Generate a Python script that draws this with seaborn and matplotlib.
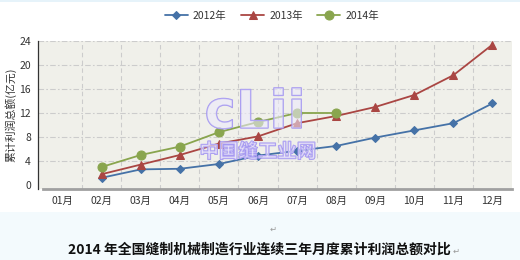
import matplotlib
matplotlib.use("Agg")
import matplotlib.pyplot as plt
import matplotlib.patheffects as pe
from matplotlib.patches import Rectangle
import seaborn as sns
import pandas as pd
import numpy as np

months = ["01月", "02月", "03月", "04月", "05月", "06月", "07月", "08月", "09月", "10月", "11月", "12月"]
series_names = ["2012年", "2013年", "2014年"]
v2012 = [None, 1.2, 2.6, 2.7, 3.5, 4.9, 5.7, 6.5, 7.9, 9.1, 10.3, 13.6]
v2013 = [None, 1.8, 3.4, 5.0, 6.9, 8.1, 10.3, 11.5, 13.0, 15.0, 18.3, 23.4]
v2014 = [None, 3.0, 5.0, 6.4, 8.8, 10.5, 12.0, 12.0, None, None, None, None]
ytick_vals = [0, 4, 8, 12, 16, 20, 24]
ylabel = "累计利润总额(亿元)"
title = "2014 年全国缝制机械制造行业连续三年月度累计利润总额对比"

rows = []
for name, vals in zip(series_names, [v2012, v2013, v2014]):
    for i, v in enumerate(vals):
        if v is not None:
            rows.append({"idx": i, "month": months[i], "value": v, "series": name})
df = pd.DataFrame(rows)

sns.set_theme(style="white")
plt.rcParams["font.family"] = ["Noto Sans CJK SC", "DejaVu Sans"]

fig = plt.figure(figsize=(5.2, 2.6), dpi=100)
fig.patch.set_facecolor("white")
# light blue lower band
fig.patches.append(Rectangle((0, 0), 1, 48 / 260, transform=fig.transFigure,
                             facecolor="#f3fafd", edgecolor="none", zorder=0))
fig.patches.append(Rectangle((0, 1 - 2 / 260), 1, 2 / 260, transform=fig.transFigure,
                             facecolor="#e6f3fa", edgecolor="none", zorder=0))

ax = fig.add_axes([38 / 520, 1 - 189 / 260, (512 - 38) / 520, (189 - 41) / 260])
ax.set_facecolor("#f0f0ea")

palette = {"2012年": "#4572a7", "2013年": "#aa4643", "2014年": "#89a54e"}
markers = {"2012年": "D", "2013年": "^", "2014年": "o"}
sizes_ms = {"2012年": 4.2, "2013年": 6.2, "2014年": 6.5}

for name in series_names:
    sub = df[df["series"] == name]
    sns.lineplot(data=sub, x="idx", y="value", ax=ax, color=palette[name],
                 marker=markers[name], markersize=sizes_ms[name],
                 markeredgecolor=palette[name], linewidth=1.3, label=name,
                 legend=False, zorder=3)

ax.set_xlim(-0.63, 11.5)
ax.set_ylim(-0.67, 24)
ax.set_yticks(ytick_vals)
ax.set_yticklabels([str(v) for v in ytick_vals], fontsize=7.5, color="#333333")
ax.set_xticks(np.arange(12))
ax.set_xticklabels(months, fontsize=7.5, color="#333333")
ax.set_xticks(np.arange(-0.5, 12, 1), minor=True)
ax.tick_params(axis="x", which="major", length=0, pad=5)
ax.tick_params(axis="x", which="minor", length=4, color="#c0c0c0", width=1, direction="out")
ax.tick_params(axis="y", length=3, color="#333333", width=0.8, pad=2, direction="out")

grid_ls = (0, (5, 2, 1.5, 2))
for yv in ytick_vals[1:]:
    ax.axhline(yv, color="#cccccc", lw=0.8, ls=grid_ls, zorder=1)
for xv in np.arange(0.5, 11.5, 1):
    ax.axvline(xv, color="#cccccc", lw=0.8, ls=(0, (4, 3)), zorder=1)

for s in ["top", "right"]:
    ax.spines[s].set_visible(False)
ax.spines["left"].set_color("#333333")
ax.spines["left"].set_linewidth(0.9)
ax.spines["left"].set_bounds(-0.67, 24)
ax.spines["bottom"].set_color("#a0a0a0")
ax.spines["bottom"].set_linewidth(2)
ax.spines["bottom"].set_bounds(-0.5, 11.5)

ax.set_xlabel("")
ax.set_ylabel(ylabel, fontsize=7.8, color="#333333", labelpad=2)

# watermark (outlined, translucent)
wm_fx = [pe.Stroke(linewidth=1.0, foreground="#a497f0"), pe.Normal()]
fig.text(255 / 520, 1 - 113 / 260, "cLii", fontsize=38, fontweight="bold",
         family=["DejaVu Sans"], color=(0.93, 0.92, 0.99, 0.35), ha="center", va="center",
         path_effects=wm_fx, zorder=5)
fig.text(258 / 520, 1 - 152 / 260, "中国缝工业网", fontsize=14, fontweight="bold",
         color=(0.90, 0.88, 0.99, 0.45), ha="center", va="center", path_effects=wm_fx, zorder=5)

handles, labels = ax.get_legend_handles_labels()
leg = fig.legend(handles, labels, loc="center", bbox_to_anchor=(272 / 520, 1 - 16 / 260),
                 ncol=3, frameon=False, fontsize=7.5, handlelength=2.2, columnspacing=1.4,
                 handletextpad=0.5)
for t in leg.get_texts():
    t.set_color("#333333")

fig.text(273 / 520, 1 - 229 / 260, "↵", fontsize=6, color="#999999", ha="center",
         va="center", family=["DejaVu Sans"])
fig.text(259 / 520, 1 - 250 / 260, title, fontsize=10, fontweight="bold", color="#111111",
         ha="center", va="center")
fig.text(456 / 520, 1 - 251 / 260, "↵", fontsize=6, color="#999999", ha="center",
         va="center", family=["DejaVu Sans"])

fig.savefig("out.png", dpi=100, facecolor=fig.get_facecolor())
